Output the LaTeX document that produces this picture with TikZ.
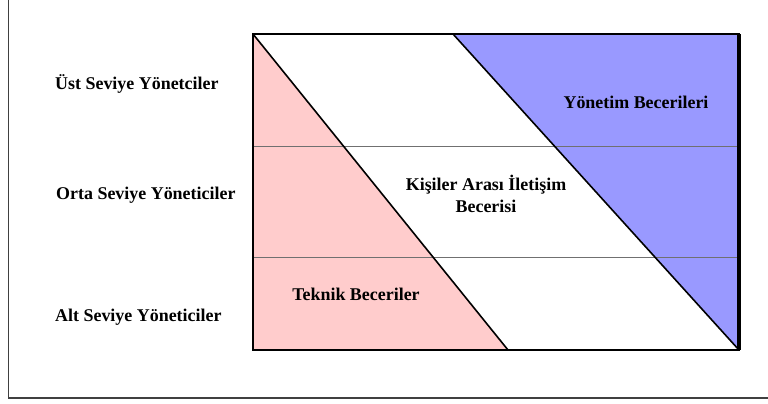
\documentclass[tikz,border=0pt]{standalone}
\usepackage{fontspec}
\setmainfont{Liberation Serif}
\usepackage{tikz}
\usetikzlibrary{positioning}
\usepackage{xcolor}
\definecolor{teknikred}{HTML}{FFCCCC}
\definecolor{yonetimblue}{HTML}{9999FF}
\definecolor{rowgray}{HTML}{707070}
\definecolor{framegray}{HTML}{404040}

\begin{document}
\begin{tikzpicture}[x=1bp, y=-1bp,
    lbl/.style={font=\fontsize{18}{22}\selectfont\bfseries, inner sep=0pt, text=black},
    rowline/.style={line width=1.2bp, rowgray},
    diag/.style={line width=1.6bp, black},
    frame/.style={line width=1.3bp, framegray}
  ]
    \useasboundingbox (0,0) rectangle (768,403);
    % outer frame (only left and bottom edges show)
    \draw[frame] (8.5,0) -- (8.5,398) -- (768,398);
    % skill areas
    \fill[teknikred] (253,34) -- (508,350) -- (253,350) -- cycle;
    \fill[yonetimblue] (453,34) -- (739,34) -- (739,350) -- cycle;
    % levels
    \draw[rowline] (253,146.5) -- (739,146.5);
    \draw[rowline] (253,257.5) -- (739,257.5);
    \draw[diag] (253,34) -- (508,350);
    \draw[diag] (453,34) -- (739,350);
    \draw[line width=2bp] (253,34) rectangle (739,350);
    \draw[line width=3.2bp] (739,34) -- (739,350);
    % level names
    \node[lbl, anchor=west] (ust) at (55,84) {Üst Seviye Yönetciler};
    \node[lbl, anchor=west] (orta) at (56,195) {Orta Seviye Yöneticiler};
    \node[lbl, anchor=west] (alt) at (55,317) {Alt Seviye Yöneticiler};
    % skill names
    \node[lbl] (yonetim) at (636,102) {Yönetim Becerileri};
    \node[lbl, align=center] (kisiler) at (486,194)
      {Kişiler Arası İletişim\\Becerisi};
    \node[lbl] (teknik) at (356,294) {Teknik Beceriler};
\end{tikzpicture}
\end{document}
